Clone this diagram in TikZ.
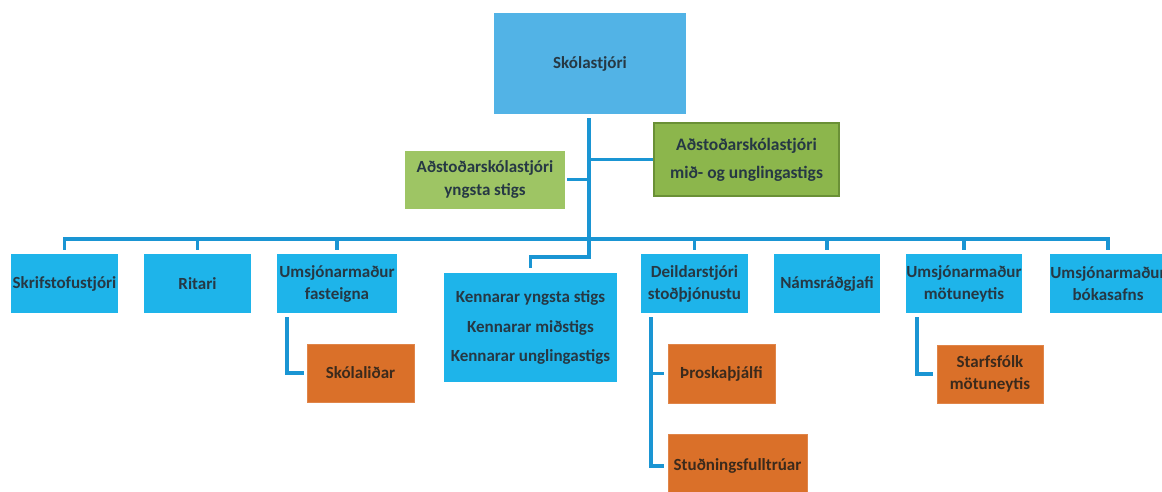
\documentclass[tikz,border=0pt]{standalone}
\usepackage{fontspec}
\setmainfont{Carlito}
\definecolor{skblue}{HTML}{52B3E6}
\definecolor{boxblue}{HTML}{1EB4EA}
\definecolor{linecol}{HTML}{1A95D3}
\definecolor{greenA}{HTML}{9EC564}
\definecolor{greenB}{HTML}{8CB64C}
\definecolor{greenBd}{HTML}{6A9036}
\definecolor{orangebox}{HTML}{DA7029}
\definecolor{txtcol}{HTML}{263844}
\definecolor{otxt}{HTML}{3B2A1C}
\tikzset{
  base/.style={rectangle, inner sep=0pt, align=center, text=txtcol,
    font=\bfseries\fontsize{17}{22}\selectfont},
  topbox/.style={base, fill=skblue},
  bluebox/.style={base, fill=boxblue, minimum height=59pt},
  greenL/.style={base, fill=greenA},
  greenR/.style={base, fill=greenB, draw=greenBd, line width=2pt,
    font=\bfseries\fontsize{17.5}{28}\selectfont},
  orbox/.style={base, fill=orangebox, text=otxt, draw=orangebox!85!white, line width=0.8pt},
  conn/.style={draw=linecol, line width=3.4pt},
}
\begin{document}
\begin{tikzpicture}[x=1pt, y=-1pt]
\useasboundingbox (0,0) rectangle (1162,491);
\clip (0,0) rectangle (1162,491);
\fill[white] (0,0) rectangle (1162,491);

% top
\node[topbox, minimum width=192pt, minimum height=101pt] (sk) at (590,63.5) {Skólastjóri};
\node[greenL, minimum width=160pt, minimum height=58pt] (ay) at (485,179.5)
  {Aðstoðarskólastjóri\\[1pt]yngsta stigs};
\node[greenR, minimum width=185pt, minimum height=73pt] (am) at (746.5,159.5)
  {Aðstoðarskólastjóri\\mið- og unglingastigs};

% second row
\node[bluebox, minimum width=107pt] (b1) at (64.5,283.5) {Skrifstofustjóri};
\node[bluebox, minimum width=107pt] (b2) at (197.5,283.5) {Ritari};
\node[bluebox, minimum width=120pt] (b3) at (337,283.5) {Umsjónarmaður\\fasteigna};
\node[base, fill=boxblue, minimum width=173pt, minimum height=109pt,
  font=\bfseries\fontsize{17}{29.5}\selectfont] (kenn) at (530.5,327.5)
  {Kennarar yngsta stigs\\Kennarar miðstigs\\Kennarar unglingastigs};
\node[bluebox, minimum width=107pt] (b4) at (694.5,283.5) {Deildarstjóri\\stoðþjónustu};
\node[bluebox, minimum width=106pt] (b5) at (827,283.5) {Námsráðgjafi};
\node[bluebox, minimum width=114pt] (b6) at (964,283.5) {Umsjónarmaður\\mötuneytis};
\node[bluebox, minimum width=116pt] (b7) at (1108,283.5) {Umsjónarmaður\\bókasafns};

% third level
\node[orbox, minimum width=107pt, minimum height=58pt] (o1) at (360.5,373) {Skólaliðar};
\node[orbox, minimum width=107pt, minimum height=59pt] (o2) at (721.5,373.5) {Þroskaþjálfi};
\node[orbox, minimum width=139pt, minimum height=64pt] (o3) at (737.5,466) {Stuðningsfulltrúar};
\node[orbox, minimum width=106pt, minimum height=58pt] (o4) at (990,374) {Starfsfólk\\mötuneytis};

% connectors
\coordinate (busL) at (64.5,239);
\coordinate (busR) at (1108,239);
\coordinate (jk) at (589,257);
\draw[conn] ([xshift=-1pt,yshift=-4pt]sk.south) -- (jk) -| ([yshift=5pt]kenn.north);
\draw[conn] (am.west -| jk) -- (am.west);
\draw[conn] ([xshift=2pt]ay.east) -- (ay.east -| jk);
\draw[conn, line cap=rect] (busL) -- (busR);
\foreach \b in {b1,b2,b3,b4,b5,b6,b7}{
  \draw[conn] ([yshift=4pt]\b.north) -- (\b.north |- busL);
}
\draw[conn] ([xshift=-50pt,yshift=-4pt]b3.south) |- ([xshift=-3pt]o1.west);
\draw[conn] ([xshift=-43.5pt,yshift=-4pt]b4.south) |- ([xshift=-4pt]o3.west);
\draw[conn] ([xshift=-17pt]o2.west) -- ([xshift=-4pt]o2.west);
\draw[conn] ([xshift=-47pt,yshift=-4pt]b6.south) |- ([xshift=-4pt]o4.west);
\end{tikzpicture}
\end{document}
